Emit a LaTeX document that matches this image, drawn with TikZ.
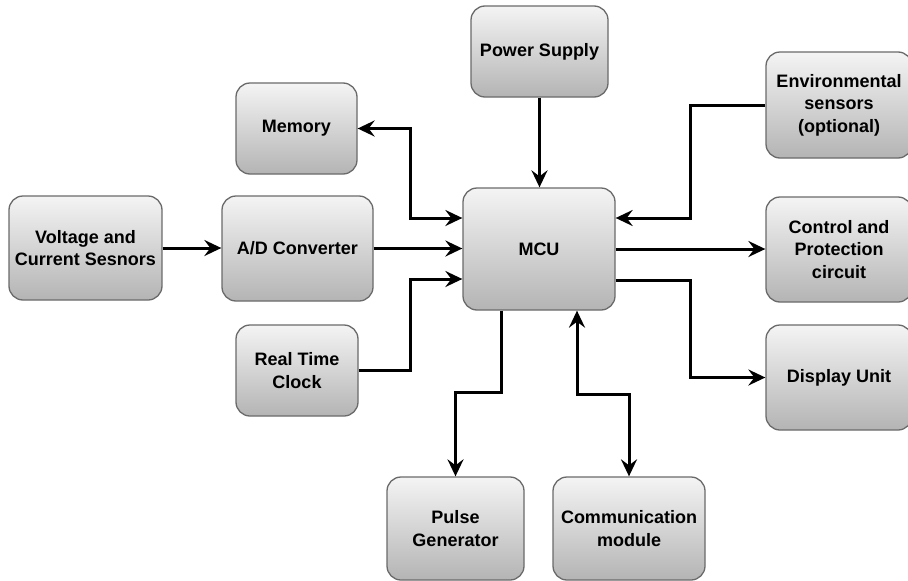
\documentclass[tikz,border=0pt]{standalone}
\usepackage{fontspec}
\setmainfont{Liberation Sans}
\usetikzlibrary{arrows.meta}
\definecolor{boxtop}{HTML}{F4F4F4}
\definecolor{boxbot}{HTML}{B4B4B4}
\definecolor{boxline}{HTML}{6A6A6A}
\tikzset{
  block/.style={draw=boxline, line width=1.3pt, rounded corners=14pt,
    top color=boxtop, bottom color=boxbot, align=center,
    font=\fontsize{18}{22.5}\selectfont\bfseries, inner sep=2pt},
  link/.style={line width=3pt, draw=black},
  tip/.tip={Stealth[length=17pt,width=16pt,inset=6pt]}
}
\newcommand{\blk}[5]{\node[block, minimum width=#3pt, minimum height=#4pt] (#1) at (#2) {#5};}
\begin{document}
\begin{tikzpicture}[x=1pt, y=-1pt]
\useasboundingbox (0,0) rectangle (908,581);
% blocks
\blk{pow}{539.5,51.5}{137}{91}{Power Supply}
\blk{mem}{296.5,128.5}{121}{91}{Memory}
\blk{mcu}{539,249}{152}{122}{MCU}
\blk{vcs}{85.5,248}{153}{104}{Voltage and\\Current Sesnors}
\blk{adc}{297.5,248.5}{151}{105}{A/D Converter}
\blk{rtc}{297,370.5}{122}{91}{Real Time\\Clock}
\blk{env}{839,105}{146}{106}{Environmental\\sensors\\(optional)}
\blk{cpc}{839,249.5}{146}{105}{Control and\\Protection\\circuit}
\blk{dsp}{839,377.5}{146}{105}{Display Unit}
\blk{pul}{455.5,528.5}{137}{103}{Pulse\\Generator}
\blk{com}{629,528.5}{152}{103}{Communication\\module}
% ports on the MCU and bus lines
\coordinate (mw1) at ([yshift=31pt]mcu.west);
\coordinate (mw3) at ([yshift=-30pt]mcu.west);
\coordinate (me1) at ([yshift=31pt]mcu.east);
\coordinate (me3) at ([yshift=-31pt]mcu.east);
\coordinate (ms1) at ([xshift=-38pt]mcu.south);
\coordinate (ms2) at ([xshift=38pt]mcu.south);
\coordinate (lbus) at (410.5,0);
\coordinate (rbus) at (690,0);
\coordinate (bbus1) at (0,392);
\coordinate (bbus2) at (0,394);
% connectors
\draw[link,-tip] (pow.south) -- (pow.south |- mcu.north);
\draw[link,tip-tip] (mem.east) -| (lbus |- mw1) -- (mw1);
\draw[link,-tip] (vcs.east) -- (vcs.east -| adc.west);
\draw[link,-tip] (adc.east) -- (adc.east -| mcu.west);
\draw[link,-tip] (rtc.east) -| (lbus |- mw3) -- (mw3);
\draw[link,-tip] (env.west) -| (rbus |- me1) -- (me1);
\draw[link,-tip] (mcu.east) -- (mcu.east -| cpc.west);
\draw[link,-tip] (me3) -| (rbus |- dsp.west) -- (dsp.west);
\draw[link,-tip] (ms1) -- (ms1 |- bbus1) -| (pul.north);
\draw[link,tip-tip] (ms2) -- (ms2 |- bbus2) -| (com.north);
\end{tikzpicture}
\end{document}
